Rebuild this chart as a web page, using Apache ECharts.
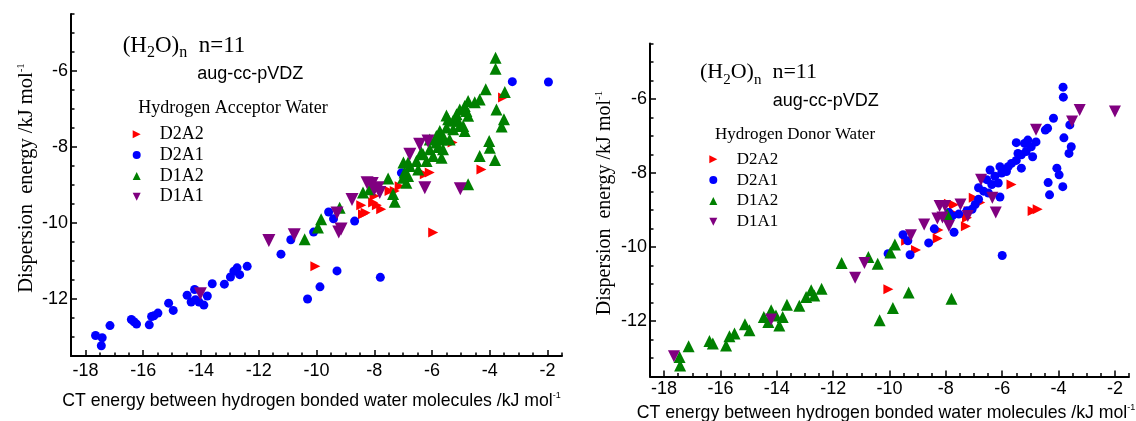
<!DOCTYPE html>
<html><head><meta charset="utf-8">
<script src="https://cdn.jsdelivr.net/npm/echarts@6/dist/echarts.min.js"></script>
<style>html,body{margin:0;padding:0;background:#fff}#c{width:1136px;height:421px}</style>
</head><body><div id="c"></div>
<script>
// ---- tick values ----
const xMajorTicks = [-18,-16,-14,-12,-10,-8,-6,-4,-2];
const xMinorTicks = [-18.5,-18,-17.5,-17,-16.5,-16,-15.5,-15,-14.5,-14,-13.5,-13,-12.5,-12,-11.5,-11,-10.5,-10,-9.5,-9,-8.5,-8,-7.5,-7,-6.5,-6,-5.5,-5,-4.5,-4,-3.5,-3,-2.5,-2,-1.5];
const yMajorTicks = [-12,-10,-8,-6];
const yMinorTicks = [-13.5,-13,-12.5,-12,-11.5,-11,-10.5,-10,-9.5,-9,-8.5,-8,-7.5,-7,-6.5,-6,-5.5,-5,-4.5];
const categories = ['D2A2','D2A1','D1A2','D1A1'];

// ---- left panel: Hydrogen Acceptor Water ----
const accD2A2 = [[-3.54,-6.70],[-5.29,-7.88],[-4.29,-8.59],[-6.08,-8.67],[-6.25,-8.72],[-5.96,-10.25],[-7.12,-9.03],[-7.29,-9.16],[-7.47,-9.16],[-7.99,-9.29],[-8.04,-9.46],[-7.91,-9.53],[-7.76,-9.64],[-8.45,-9.53],[-8.30,-9.73],[-8.39,-9.77],[-10.04,-11.14]];
const accD2A1 = [[-17.65,-12.96],[-17.42,-13.02],[-17.45,-13.23],[-17.15,-12.70],[-16.41,-12.54],[-16.32,-12.60],[-16.23,-12.66],[-15.79,-12.68],[-15.71,-12.46],[-15.63,-12.44],[-15.49,-12.37],[-15.12,-12.11],[-14.96,-12.30],[-14.48,-11.90],[-14.34,-12.08],[-14.22,-11.75],[-14.19,-12.02],[-14.07,-12.08],[-13.90,-12.16],[-13.78,-11.92],[-13.61,-11.60],[-13.19,-11.61],[-12.98,-11.42],[-12.86,-11.27],[-12.75,-11.18],[-12.66,-11.36],[-12.40,-11.14],[-11.23,-10.82],[-10.89,-10.44],[-10.31,-12.00],[-9.88,-11.68],[-10.10,-10.24],[-9.58,-9.71],[-9.41,-9.89],[-9.29,-11.26],[-8.68,-9.95],[-7.79,-11.43],[-7.06,-8.68],[-3.22,-6.28],[-1.97,-6.29]];
const accD1A2 = [[-3.80,-5.65],[-3.80,-5.94],[-3.48,-6.55],[-4.14,-6.48],[-4.35,-6.75],[-4.52,-6.82],[-4.75,-6.79],[-3.77,-7.01],[-3.51,-7.27],[-3.59,-7.46],[-5.50,-7.17],[-4.02,-7.84],[-4.00,-8.02],[-4.35,-8.24],[-3.82,-8.34],[-4.75,-8.98],[-7.52,-8.83],[-8.16,-9.11],[-7.35,-9.24],[-7.29,-9.44],[-9.84,-9.90],[-9.95,-10.12],[-10.41,-10.43],[-9.20,-9.60],[-8.39,-9.20],[-6.95,-8.67],[-6.83,-8.76],[-6.77,-8.50],[-6.54,-8.37],[-6.31,-8.19],[-6.08,-8.06],[-5.85,-7.88],[-5.67,-7.80],[-5.62,-7.71],[-5.50,-7.49],[-5.27,-7.31],[-5.15,-7.14],[-5.04,-7.01],[-4.87,-6.92],[-4.81,-7.05],[-4.92,-7.45],[-4.87,-7.58],[-5.67,-8.28],[-5.62,-8.06],[-5.96,-8.24],[-6.19,-8.37],[-6.48,-8.59],[-5.85,-7.71],[-5.44,-7.27],[-5.27,-7.53],[-5.04,-7.45],[-7.00,-8.81],[-6.89,-8.94],[-6.83,-8.41],[-6.37,-8.14],[-6.08,-7.80],[-5.73,-7.58],[-5.10,-7.31],[-4.75,-7.18],[-5.39,-7.80],[-5.79,-8.00],[-6.99,-8.41]];
const accD1A1 = [[-14.02,-11.86],[-11.65,-10.46],[-10.77,-10.31],[-9.29,-9.74],[-9.23,-10.24],[-9.15,-10.16],[-8.77,-9.38],[-8.25,-8.94],[-8.07,-8.96],[-7.87,-9.07],[-7.81,-9.20],[-8.00,-9.12],[-6.77,-8.19],[-6.43,-7.93],[-6.14,-7.84],[-6.25,-9.07],[-5.02,-9.10]];

// ---- right panel: Hydrogen Donor Water ----
const donD2A2 = [[-5.67,-8.31],[-4.92,-9.03],[-4.74,-8.98],[-7.01,-8.67],[-6.78,-8.80],[-7.25,-9.21],[-7.19,-9.03],[-7.71,-8.86],[-7.89,-8.83],[-7.77,-9.07],[-8.26,-9.54],[-9.06,-10.08],[-9.41,-9.83],[-10.04,-11.14],[-8.29,-9.77],[-7.29,-9.44]];
const donD2A1 = [[-3.84,-5.68],[-3.83,-5.95],[-4.18,-6.52],[-4.39,-6.79],[-4.47,-6.84],[-3.60,-6.70],[-3.81,-7.05],[-3.55,-7.29],[-3.63,-7.47],[-4.06,-7.87],[-3.98,-8.05],[-4.37,-8.26],[-3.85,-8.37],[-4.32,-8.59],[-6.00,-10.23],[-5.50,-7.18],[-4.80,-7.16],[-4.97,-7.29],[-5.15,-7.42],[-4.92,-7.56],[-5.32,-7.51],[-5.44,-7.47],[-5.50,-7.66],[-5.67,-7.74],[-5.79,-7.83],[-5.32,-7.87],[-6.08,-7.83],[-6.43,-7.92],[-6.02,-8.00],[-5.85,-7.96],[-6.26,-8.09],[-6.55,-8.18],[-6.37,-8.31],[-6.14,-8.27],[-6.84,-8.40],[-6.66,-8.49],[-6.49,-8.54],[-6.08,-8.65],[-6.84,-8.71],[-6.96,-8.85],[-7.07,-8.98],[-7.25,-9.02],[-7.54,-9.11],[-7.77,-9.16],[-7.89,-9.07],[-7.71,-9.60],[-8.41,-9.51],[-9.52,-9.67],[-9.35,-9.83],[-8.61,-9.89],[-9.27,-10.21],[-10.05,-10.18],[-5.21,-7.20],[-5.09,-7.11]];
const donD1A2 = [[-17.45,-12.97],[-17.43,-13.20],[-17.13,-12.68],[-16.39,-12.54],[-16.27,-12.61],[-15.80,-12.66],[-15.68,-12.41],[-15.50,-12.34],[-15.13,-12.09],[-14.97,-12.25],[-14.46,-11.89],[-14.30,-12.03],[-14.20,-11.71],[-14.03,-11.85],[-13.91,-12.12],[-13.79,-11.89],[-13.64,-11.56],[-13.20,-11.59],[-12.96,-11.35],[-12.78,-11.17],[-12.67,-11.31],[-12.41,-11.13],[-11.70,-10.43],[-10.75,-10.27],[-10.42,-10.45],[-9.97,-10.15],[-9.81,-9.93],[-10.35,-11.98],[-9.88,-11.65],[-9.32,-11.23],[-7.80,-11.40],[-7.95,-9.12]];
const donD1A1 = [[-17.65,-12.95],[-14.20,-11.96],[-11.22,-10.83],[-10.89,-10.43],[-9.24,-9.68],[-8.77,-9.39],[-2.00,-6.34],[-3.25,-6.30],[-3.52,-6.61],[-4.80,-6.83],[-6.75,-8.18],[-6.35,-8.67],[-6.23,-9.07],[-7.48,-8.85],[-7.22,-9.16],[-8.22,-8.89],[-8.03,-8.89],[-8.30,-9.23],[-8.12,-9.20],[-7.89,-9.43]];

const COLORS = {D2A2:'#ff0000', D2A1:'#0000ff', D1A2:'#008000', D1A1:'#800080'};
const SYMBOLS = {
  D2A2:'path://M0,0 L10,5 L0,10 Z',
  D2A1:'circle',
  D1A2:'triangle',
  D1A1:'path://M0,0 L10,0 L5,10 Z'
};
const SERIF = 'Liberation Serif', SANS = 'Liberation Sans';

function axisPair(dim, gridIndex, majors, minors, nameOpt, labelMargin) {
  const isX = dim === 'x';
  const base = {
    type:'value', gridIndex,
    min: isX ? -18.5 : -13.5, max: isX ? -1.5 : -4.5,
    position: isX ? 'bottom' : 'left',
    splitLine:{show:false}
  };
  const main = Object.assign({}, base, {
    axisLine:{show:true, onZero:false, lineStyle:{color:'#000', width:2}},
    axisTick:{show:true, inside:true, length:6, customValues:majors, lineStyle:{color:'#000', width:1.5}},
    axisLabel:{show:true, customValues:majors, color:'#000', fontFamily:SANS, fontSize:18, margin:labelMargin}
  }, nameOpt);
  const minor = Object.assign({}, base, {
    axisLine:{show:false, onZero:false},
    axisTick:{show:true, inside:true, length:3.5, customValues:minors, lineStyle:{color:'#000', width:1.5}},
    axisLabel:{show:false}
  });
  return [main, minor];
}

const xName = 'CT energy between hydrogen bonded water molecules /kJ mol{sup|-1}';
const yName = 'Dispersion  energy /kJ mol{sup|-1}';
function xNameOpt(gap, padRight) {
  return {name:xName, nameLocation:'middle', nameGap:gap, nameMoveOverlap:false,
    nameTextStyle:{fontFamily:SANS, fontSize:17.7, color:'#000', lineHeight:20, padding:[0,padRight,0,0],
      rich:{sup:{fontFamily:SANS, fontSize:9, lineHeight:9, verticalAlign:'top', color:'#000'}}}};
}
function yNameOpt(gap, fs) {
  return {name:yName, nameLocation:'middle', nameGap:gap, nameMoveOverlap:false,
    nameTextStyle:{fontFamily:SERIF, fontSize:fs, color:'#000', lineHeight:22, padding:[0,0,0,14],
      rich:{sup:{fontFamily:SERIF, fontSize:11, lineHeight:11, verticalAlign:'top', color:'#000'}}}};
}

const xAxes = [].concat(
  axisPair('x', 0, xMajorTicks, xMinorTicks, xNameOpt(35, 10), 6),
  axisPair('x', 1, xMajorTicks, xMinorTicks, xNameOpt(27, 7), 4)
);
const yAxes = [].concat(
  axisPair('y', 0, yMajorTicks, yMinorTicks, yNameOpt(33.5, 20.5), 3),
  axisPair('y', 1, yMajorTicks, yMinorTicks, yNameOpt(34, 20), 3)
);

function scatter(name, data, axisIdx, size) {
  return {
    type:'scatter', name, data, xAxisIndex:axisIdx, yAxisIndex:axisIdx,
    symbol:SYMBOLS[name], symbolSize:size,
    itemStyle:{color:COLORS[name], opacity:1},
    emphasis:{disabled:true}, silent:true
  };
}

const series = [
  scatter('D2A2', accD2A2, 0, 10),
  scatter('D2A1', accD2A1, 0, 9),
  scatter('D1A2', accD1A2, 0, 12),
  scatter('D1A1', accD1A1, 0, 13),
  scatter('D2A2', donD2A2, 2, 10),
  scatter('D2A1', donD2A1, 2, 9),
  scatter('D1A2', donD1A2, 2, 12),
  scatter('D1A1', donD1A1, 2, 12)
];

function formulaTitle(left, top, fs, subFs) {
  return {
    text:'(H{s|2}O){s|n}  n=11', left, top, padding:0,
    textStyle:{fontFamily:SERIF, fontSize:fs, fontWeight:'normal', color:'#000', lineHeight:30,
      rich:{s:{fontFamily:SERIF, fontSize:subFs, lineHeight:subFs, verticalAlign:'bottom', color:'#000'}}}
  };
}
function plainTitle(text, left, top, family, fs) {
  return {text, left, top, padding:0,
    textStyle:{fontFamily:family, fontSize:fs, fontWeight:'normal', color:'#000', lineHeight:fs}};
}

function legendAt(left, top, fs, pad) {
  return {
    orient:'vertical', left, top, padding:0, itemWidth:8, itemHeight:8, itemGap:0.8,
    selectedMode:false, data:categories,
    textStyle:{fontFamily:SERIF, fontSize:fs, lineHeight:20, color:'#000', padding:[0,0,0,pad]}
  };
}

const option = {
  animation:false,
  backgroundColor:'#fff',
  title:[
    formulaTitle(122.7, 30.5, 23, 16),
    plainTitle('aug-cc-pVDZ', 197.3, 65, SANS, 18),
    plainTitle('Hydrogen Acceptor Water', 138.3, 99.2, SERIF, 18),
    formulaTitle(700, 57.5, 22, 15),
    plainTitle('aug-cc-pVDZ', 772.7, 91.7, SANS, 18),
    plainTitle('Hydrogen Donor Water', 715, 126.5, SERIF, 17)
  ],
  legend:[legendAt(132.7, 124.3, 18, 14), legendAt(709.3, 149.3, 17, 14.4)],
  grid:[
    {left:71, top:14, width:491, height:342, containLabel:false, outerBoundsMode:'none'},
    {left:650, top:43.5, width:479, height:333, containLabel:false, outerBoundsMode:'none'}
  ],
  xAxis:xAxes,
  yAxis:yAxes,
  series
};

const chart = echarts.init(document.getElementById('c'), null, {renderer:'canvas'});
chart.setOption(option);
</script>
</body></html>
